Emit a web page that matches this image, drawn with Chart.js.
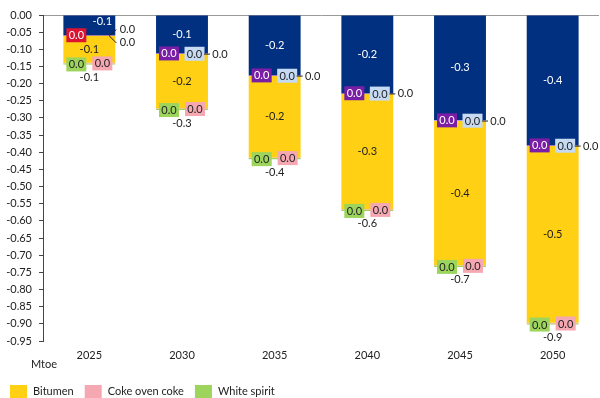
<!DOCTYPE html>
<html>
<head>
<meta charset="utf-8">
<script src="https://cdn.jsdelivr.net/npm/chart.js@4/dist/chart.umd.min.js"></script>
<style>
  body { margin: 0; background: #fff; }
</style>
</head>
<body>
<canvas id="chart" width="600" height="398"></canvas>
<script>
const years = ['2025', '2030', '2035', '2040', '2045', '2050'];
const otherProducts = [-0.058, -0.111, -0.175, -0.227, -0.306, -0.379];
const seriesRed = [-0.001, null, null, null, null, null];
const seriesPurple = [null, -0.001, -0.001, -0.001, -0.001, -0.001];
const seriesLightBlue = [-0.001, -0.001, -0.001, -0.001, -0.001, -0.001];
const seriesOutside = [-0.001, -0.001, -0.001, -0.001, -0.001, -0.001];
const bitumen = [-0.078, -0.158, -0.237, -0.336, -0.42, -0.515];
const cokeOvenCoke = [-0.002, -0.002, -0.002, -0.002, -0.002, -0.002];
const whiteSpirit = [-0.003, -0.003, -0.003, -0.003, -0.003, -0.003];
const yTicks = { min: -0.95, max: 0, step: 0.05 };
const legendNames = ['Bitumen', 'Coke oven coke', 'White spirit'];

const FONT = '11px Lato, "Open Sans", sans-serif';
const fmt = v => (Math.round(v * 10) / 10).toFixed(1);

// labels on the bars, drawn by hand
const labelPlugin = {
    id: 'labels',
    afterDatasetsDraw(chart) {
        const ctx = chart.ctx;
        ctx.save();
        ctx.font = FONT;
        ctx.textAlign = 'center';
        ctx.textBaseline = 'middle';

        const boxLabel = (x, y, text, bg, fg) => {
            ctx.fillStyle = bg;
            ctx.fillRect(x - 10, y - 7, 20, 14);
            ctx.fillStyle = fg;
            ctx.fillText(text, x, y + 0.5);
        };
        const plain = (x, y, text, fg) => {
            ctx.fillStyle = fg;
            ctx.fillText(text, x, y);
        };

        chart.data.datasets.forEach((ds, di) => {
            const meta = chart.getDatasetMeta(di);
            meta.data.forEach((el, i) => {
                const v = ds.data[i];
                if (v === null || v === undefined) return;
                const x = el.x, top = el.base, bot = el.y;
                const mid = (top + bot) / 2;
                const t = fmt(v);
                switch (ds.key) {
                    case 'navy':
                        plain(i === 0 ? x + 13 : x, i === 0 ? mid - 4 : mid, t, '#fff');
                        break;
                    case 'yellow':
                        plain(x, mid, t, '#222');
                        break;
                    case 'red':
                        boxLabel(x - 13, bot, t, ds.backgroundColor, '#fff');
                        break;
                    case 'purple':
                        boxLabel(x - 13, bot, t, ds.backgroundColor, '#fff');
                        break;
                    case 'lightblue':
                        if (i === 0) {
                            ctx.strokeStyle = '#222';
                            ctx.lineWidth = 1;
                            ctx.beginPath();
                            ctx.moveTo(x + 27, bot - 6);
                            ctx.lineTo(x + 20, bot);
                            ctx.stroke();
                            plain(x + 38, bot - 6, t, '#222');
                        } else {
                            boxLabel(x + 12.5, bot, t, ds.backgroundColor, '#222');
                        }
                        break;
                    case 'outside':
                        ctx.strokeStyle = '#222';
                        ctx.lineWidth = 1;
                        ctx.beginPath();
                        if (i === 0) {
                            ctx.moveTo(x + 20, bot);
                            ctx.lineTo(x + 27, bot + 7);
                            ctx.stroke();
                            plain(x + 38, bot + 7, t, '#222');
                        } else {
                            ctx.moveTo(x + 22, bot);
                            ctx.lineTo(x + 28, bot);
                            ctx.stroke();
                            plain(x + 38, bot, t, '#222');
                        }
                        break;
                    case 'pink':
                        boxLabel(x + 13, bot, t, ds.backgroundColor, '#222');
                        break;
                    case 'green':
                        boxLabel(x - 13, bot, t, ds.backgroundColor, '#222');
                        break;
                }
            });
        });

        // totals under each bar
        const last = chart.getDatasetMeta(chart.data.datasets.length - 1);
        years.forEach((y, i) => {
            let total = 0;
            chart.data.datasets.forEach(ds => { total += ds.data[i] || 0; });
            const el = last.data[i];
            plain(el.x, el.y + 13, fmt(total), '#222');
        });

        // unit label
        plain(44, 364, 'Mtoe', '#222');

        // legend
        let lx = 10;
        const ly = 391;
        legendNames.forEach(name => {
            const ds = chart.data.datasets.find(d => d.label === name);
            ctx.fillStyle = ds.backgroundColor;
            ctx.fillRect(lx, ly - 6, 17, 13);
            lx += 23;
            ctx.textAlign = 'left';
            plain(lx, ly, name, '#222');
            lx += ctx.measureText(name).width + 11;
        });
        ctx.restore();
    }
};

new Chart(document.getElementById('chart').getContext('2d'), {
    type: 'bar',
    data: {
        labels: years,
        datasets: [
            { key: 'navy', label: 'Other products', data: otherProducts, backgroundColor: '#00307F' },
            { key: 'red', label: 'Series 2', data: seriesRed, backgroundColor: '#DC1431' },
            { key: 'purple', label: 'Series 3', data: seriesPurple, backgroundColor: '#7A1FA5' },
            { key: 'lightblue', label: 'Series 4', data: seriesLightBlue, backgroundColor: '#C6DAF3' },
            { key: 'outside', label: 'Series 5', data: seriesOutside, backgroundColor: '#00307F' },
            { key: 'yellow', label: 'Bitumen', data: bitumen, backgroundColor: '#FFD014' },
            { key: 'pink', label: 'Coke oven coke', data: cokeOvenCoke, backgroundColor: '#F5A8B1' },
            { key: 'green', label: 'White spirit', data: whiteSpirit, backgroundColor: '#9CD45C' }
        ]
    },
    options: {
        responsive: false,
        animation: false,
        categoryPercentage: 1,
        barPercentage: 0.56,
        layout: { padding: { top: 15, right: 1, bottom: 27, left: 0 } },
        plugins: {
            legend: { display: false },
            tooltip: { enabled: false }
        },
        scales: {
            x: {
                stacked: true,
                grid: { display: false, drawTicks: false },
                border: { display: false },
                ticks: { color: '#222', font: { family: 'Lato', size: 11 }, padding: 8 },
                afterFit: s => { s.height = 30; }
            },
            y: {
                stacked: true,
                min: yTicks.min,
                max: yTicks.max,
                ticks: {
                    stepSize: yTicks.step,
                    color: '#222',
                    font: { family: 'Lato', size: 11 },
                    padding: 7,
                    callback: v => Number(v).toFixed(2)
                },
                grid: {
                    color: c => (c.tick && Math.abs(c.tick.value) < 1e-9) ? '#9a9a9a' : 'transparent',
                    tickColor: '#444',
                    tickLength: 4
                },
                border: { display: true, color: '#444' },
                afterFit: s => { s.width = 43; }
            }
        }
    },
    plugins: [labelPlugin]
});
</script>
</body>
</html>
